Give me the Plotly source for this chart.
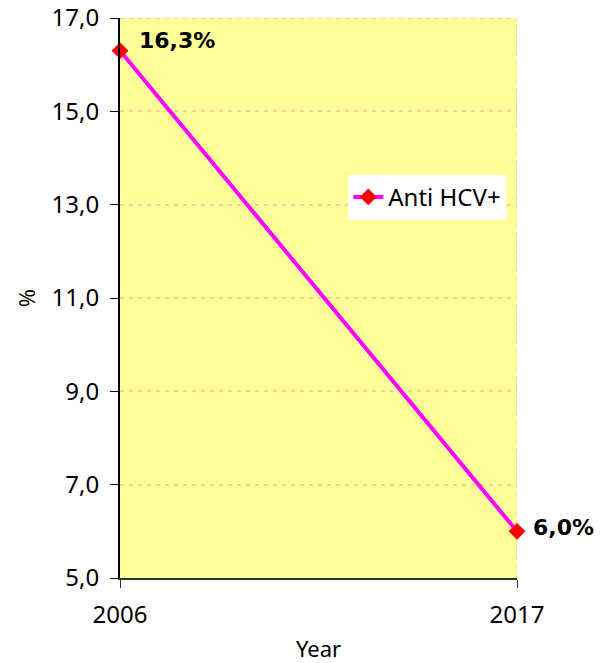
import plotly.graph_objects as go

years = [2006, 2017]
values = [16.3, 6.0]
labels = ["16,3%", "6,0%"]
series_name = "Anti HCV+"
y_ticks = [5, 7, 9, 11, 13, 15, 17]

FONT = "Noto Sans"
GRID = "#FFCC99"
DASH = "4px,5px"

fig = go.Figure()
fig.add_trace(go.Scatter(
    x=years, y=values, mode="lines+markers", name=series_name,
    line=dict(color="#FF00FF", width=4),
    marker=dict(symbol="diamond", color="#FF0000", size=13),
    cliponaxis=False,
))

shifts = [(17, 10), (14, 4)]
for xv, yv, lab, (xs, ys) in zip(years, values, labels, shifts):
    fig.add_annotation(x=xv, y=yv, text="<b>" + lab + "</b>", showarrow=False,
                       xanchor="left", yanchor="middle", xshift=xs, yshift=ys,
                       font=dict(family="DejaVu Sans", size=22, color="black"))

# grid lines on the plot edges (Plotly drops grid lines at range ends)
fig.add_shape(type="line", xref="paper", yref="y", x0=0, x1=1,
              y0=y_ticks[-1], y1=y_ticks[-1], layer="below",
              line=dict(color=GRID, width=2, dash=DASH))
fig.add_shape(type="line", xref="x", yref="paper", x0=years[-1], x1=years[-1],
              y0=0, y1=1, layer="below",
              line=dict(color=GRID, width=2, dash=DASH))

fig.update_layout(
    width=608, height=663,
    margin=dict(l=120, r=91, t=18, b=85, autoexpand=False),
    paper_bgcolor="white", plot_bgcolor="#FFFF99",
    separators=",.",
    font=dict(family=FONT, size=24, color="black"),
    showlegend=True,
    legend=dict(x=0.575, xanchor="left", y=0.72, yanchor="top",
                bgcolor="white", borderwidth=0,
                font=dict(family=FONT, size=24, color="black"),
                itemwidth=30),
)
fig.update_xaxes(
    range=[2006, 2017], tickvals=years, ticktext=[str(y) for y in years],
    showline=True, linecolor="#333333", linewidth=2, mirror=False,
    ticks="outside", ticklen=8, tickcolor="#333333",
    showgrid=True, gridcolor=GRID, griddash=DASH, gridwidth=2,
    zeroline=False, ticklabelstandoff=6, automargin=False,
    title=dict(text="Year", standoff=17, font=dict(size=22)),
)
fig.update_yaxes(
    range=[5, 17], tickvals=y_ticks, tickformat=".1f",
    showline=True, linecolor="black", linewidth=2,
    ticks="outside", ticklen=8, tickcolor="black",
    showgrid=True, gridcolor=GRID, griddash=DASH, gridwidth=2,
    zeroline=False, ticklabelstandoff=6, automargin=False,
    ticklabeloverflow="allow",
    title=dict(text="%", standoff=10, font=dict(size=22)),
)

# remove the default 8px page margin so the figure fills the window exactly
fig.write_html("out.html", config={"displayModeBar": False},
               post_script="document.body.style.margin='0';")
